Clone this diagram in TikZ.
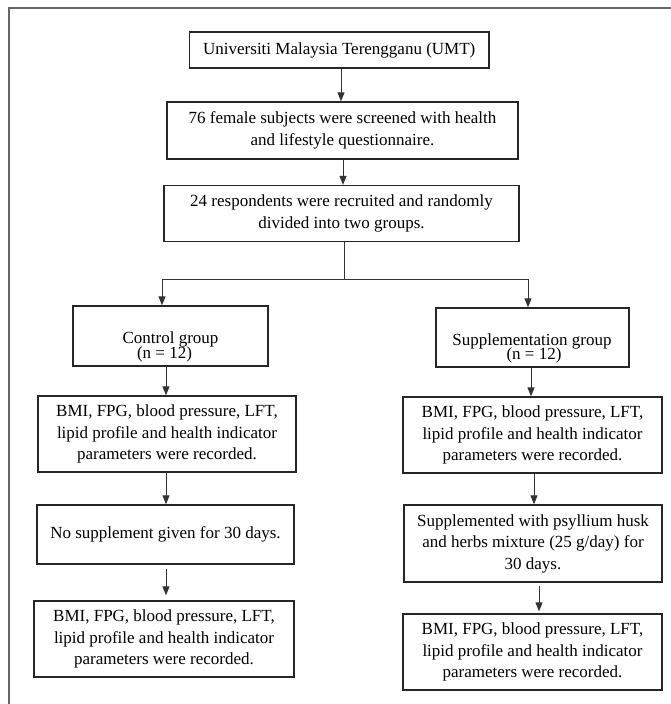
\documentclass[tikz,border=0pt]{standalone}
\usepackage{fontspec}
\setmainfont{Liberation Serif}
\usetikzlibrary{arrows.meta}
\begin{document}
\begin{tikzpicture}[x=1pt,y=-1pt,
  font=\fontsize{17}{21.5}\selectfont,
  box/.style={draw=black!85, line width=1.3pt, inner sep=0pt, align=center},
  conn/.style={draw=black!80, line width=0.9pt},
  arr/.style={conn, -{Triangle[length=9pt,width=7pt]}},
  frameline/.style={draw=black!60, line width=1.2pt}]
\useasboundingbox (0,0) rectangle (671,704);
\draw[frameline] (671,8) -- (9,8) -- (9,704);

\node[box, minimum width=299.5pt, minimum height=36pt] (umt) at (339.25,50) {Universiti Malaysia Terengganu (UMT)};
\node[box, minimum width=351pt, minimum height=57pt] (scr) at (342.5,130.5) {76 female subjects were screened with health\\and lifestyle questionnaire.};
\node[box, minimum width=355pt, minimum height=56pt] (rec) at (341.5,213.5) {24 respondents were recruited and randomly\\divided into two groups.};

\node[box, minimum width=195pt, minimum height=60pt] (ctrl) at (170.5,336) {};
\node[anchor=base, inner sep=0pt] (ctrlA) at (170.5,343) {Control group};
\node[anchor=base, inner sep=0pt] (ctrlB) at (164.5,358) {(n = 12)};

\node[box, minimum width=193pt, minimum height=59pt] (supp) at (532.5,337.5) {};
\node[anchor=base, inner sep=0pt] (suppA) at (532,345) {Supplementation group};
\node[anchor=base, inner sep=0pt] (suppB) at (534,359.5) {(n = 12)};

\node[box, minimum width=258pt, minimum height=76pt] (cbmi1) at (167,434) {BMI, FPG, blood pressure, LFT,\\lipid profile and health indicator\\parameters were recorded.};
\node[box, minimum width=259pt, minimum height=76pt] (sbmi1) at (532.5,435) {BMI, FPG, blood pressure, LFT,\\lipid profile and health indicator\\parameters were recorded.};
\node[box, minimum width=257pt, minimum height=59pt] (cno) at (165.5,534.5) {No supplement given for 30 days.};
\node[box, minimum width=258pt, minimum height=77pt] (ssup) at (533,543.5) {Supplemented with psyllium husk\\and herbs mixture (25 g/day) for\\30 days.};
\node[box, minimum width=260pt, minimum height=76pt] (cbmi2) at (164,639) {BMI, FPG, blood pressure, LFT,\\lipid profile and health indicator\\parameters were recorded.};
\node[box, minimum width=259pt, minimum height=76pt] (sbmi2) at (532.5,652) {BMI, FPG, blood pressure, LFT,\\lipid profile and health indicator\\parameters were recorded.};

\draw[arr] ([xshift=1.75pt]umt.south) -- ([xshift=1.75pt]umt.south |- scr.north);
\draw[arr] ([xshift=0.5pt]scr.south) -- ([xshift=0.5pt]scr.south |- rec.north);

\coordinate (split) at (344,279);
\coordinate (cl) at (162,279);
\coordinate (cr) at (528,279);
\draw[conn] ([xshift=2.5pt]rec.south) -- (split);
\draw[arr] (split) -- (cl) -- (cl |- ctrl.north);
\draw[arr] (split) -- (cr) -- (cr |- supp.north);

\draw[arr] ([xshift=-4.5pt]ctrl.south) -- ([xshift=-4.5pt]ctrl.south |- cbmi1.north);
\draw[arr] ([xshift=-1pt]cbmi1.south) -- ([xshift=-1pt]cbmi1.south |- cno.north);
\draw[arr, shorten <=4pt, shorten >=5pt] ([xshift=0.5pt]cno.south) -- ([xshift=0.5pt]cno.south |- cbmi2.north);

\draw[arr] ([xshift=-1.5pt]supp.south) -- ([xshift=-1.5pt]supp.south |- sbmi1.north);
\draw[arr] ([xshift=1.5pt]sbmi1.south) -- ([xshift=1.5pt]sbmi1.south |- ssup.north);
\draw[arr, shorten <=3pt, shorten >=2pt] ([xshift=6pt]ssup.south) -- ([xshift=6pt]ssup.south |- sbmi2.north);
\end{tikzpicture}
\end{document}
